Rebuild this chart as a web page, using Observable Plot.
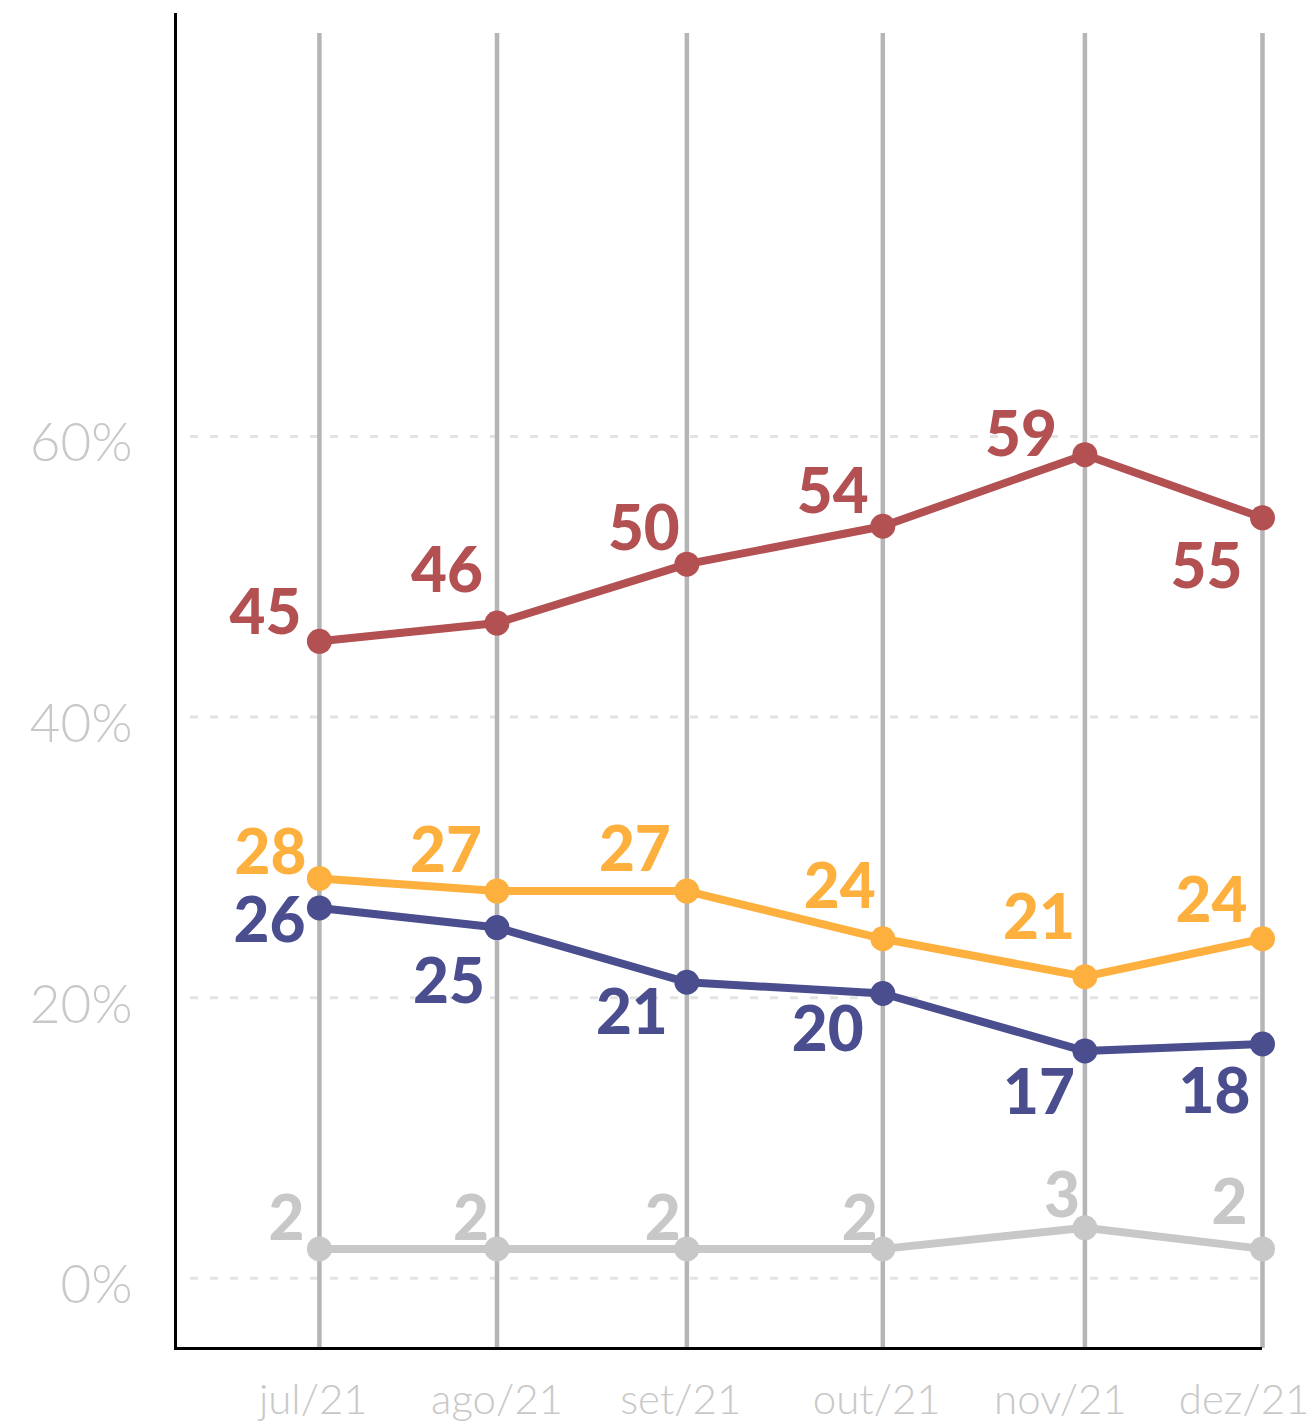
<!DOCTYPE html>
<html>
<head>
<meta charset="utf-8">
<script src="https://cdn.jsdelivr.net/npm/d3@7"></script>
<script src="https://cdn.jsdelivr.net/npm/@observablehq/plot@0.6"></script>
<style>
  html, body { margin: 0; padding: 0; background: #ffffff; }
  #chart { width: 1312px; height: 1424px; }
  svg { font-family: Lato, "Noto Sans", sans-serif; }
</style>
</head>
<body>
<div id="chart"></div>
<script>
// ---- data ----
const monthLabels = ["jul/21", "ago/21", "set/21", "out/21", "nov/21", "dez/21"];
const surveyDates = ["2021-07-07", "2021-08-05", "2021-09-05", "2021-10-07", "2021-11-09", "2021-12-08"];
const tickDates = ["2021-07-06", "2021-08-05", "2021-09-04", "2021-10-06", "2021-11-05", "2021-12-05"];

const redValues = [45.4, 46.7, 50.9, 53.6, 58.7, 54.2];
const redLabels = [45, 46, 50, 54, 59, 55];
const yellowValues = [28.5, 27.6, 27.6, 24.2, 21.5, 24.2];
const yellowLabels = [28, 27, 27, 24, 21, 24];
const blueValues = [26.4, 25.0, 21.1, 20.3, 16.2, 16.7];
const blueLabels = [26, 25, 21, 20, 17, 18];
const grayValues = [2.1, 2.1, 2.1, 2.1, 3.6, 2.1];
const grayLabels = [2, 2, 2, 2, 3, 2];

const yTicks = [0, 20, 40, 60];

// ---- styling / layout (not data) ----
const colors = {red: "#b35052", yellow: "#fdb03d", blue: "#4a4d8e", gray: "#c8c8c8"};
const labelNudge = {
  red:    [[-54,-29],[-50,-53],[-43,-36],[-50,-35],[-64,-21],[-56,48]],
  yellow: [[-49,-26],[-51,-41],[-52,-42],[-43,-53],[-46,-60],[-51,-39]],
  blue:   [[-50,12],[-48,54],[-55,30],[-55,36],[-46,41],[-48,47]],
  gray:   [[-33,-31],[-26,-31],[-24,-31],[-23,-31],[-23,-33],[-33,-47]]
};

const parse = d3.utcParse("%Y-%m-%d");
const dates = surveyDates.map(parse);
const xStart = new Date(Date.UTC(2021, 5, 13, 12));
const xEnd = dates[dates.length - 1];

const seriesDefs = [
  {key: "gray", values: grayValues, labels: grayLabels},
  {key: "blue", values: blueValues, labels: blueLabels},
  {key: "yellow", values: yellowValues, labels: yellowLabels},
  {key: "red", values: redValues, labels: redLabels}
];
const rows = seriesDefs.flatMap(s => s.values.map((v, i) => ({
  series: s.key, date: dates[i], value: v, label: String(s.labels[i]), i
})));
const ticks = tickDates.map((d, i) => ({date: parse(d), label: monthLabels[i]}));

const marks = [
  Plot.ruleY(yTicks, {stroke: "#e3e3e3", strokeWidth: 3, strokeDasharray: "8,12", insetLeft: 15}),
  Plot.ruleX(dates, {stroke: "#b5b5b5", strokeWidth: 4.5, insetTop: 18}),
  Plot.ruleX([xStart], {stroke: "#000", strokeWidth: 3, insetTop: -2, insetBottom: -2}),
  Plot.ruleY([-5], {stroke: "#000", strokeWidth: 3}),
  Plot.text(yTicks, {y: d => d, text: d => d + "%", frameAnchor: "left", textAnchor: "end", dx: -43, dy: 8,
    fill: "#c8c8c8", fontSize: 53, fontWeight: 300}),
  Plot.text(ticks, {x: "date", text: "label", frameAnchor: "bottom", dy: 52, lineAnchor: "middle",
    fill: "#c8c8c8", fontSize: 42, fontWeight: 300})
];
for (const s of seriesDefs) {
  const data = rows.filter(r => r.series === s.key);
  marks.push(Plot.line(data, {x: "date", y: "value", stroke: colors[s.key], strokeWidth: 8}));
  marks.push(Plot.dot(data, {x: "date", y: "value", fill: colors[s.key], r: 12.5}));
}
for (const s of seriesDefs) {
  const data = rows.filter(r => r.series === s.key);
  data.forEach((d, i) => {
    const [dx, dy] = labelNudge[s.key][i];
    marks.push(Plot.text([d], {x: "date", y: "value", text: "label", dx, dy: dy + 2,
      textAnchor: "middle", lineAnchor: "middle", fill: colors[s.key], fontSize: 62, fontWeight: 900}));
  });
}

const chart = Plot.plot({
  width: 1312,
  height: 1424,
  marginLeft: 175,
  marginRight: 50,
  marginTop: 15,
  marginBottom: 76,
  style: {background: "#ffffff", fontFamily: "Lato, 'Noto Sans', sans-serif"},
  x: {type: "utc", domain: [xStart, xEnd], axis: null},
  y: {domain: [-5, 90], axis: null},
  marks
});
document.getElementById("chart").appendChild(chart);
</script>
</body>
</html>
